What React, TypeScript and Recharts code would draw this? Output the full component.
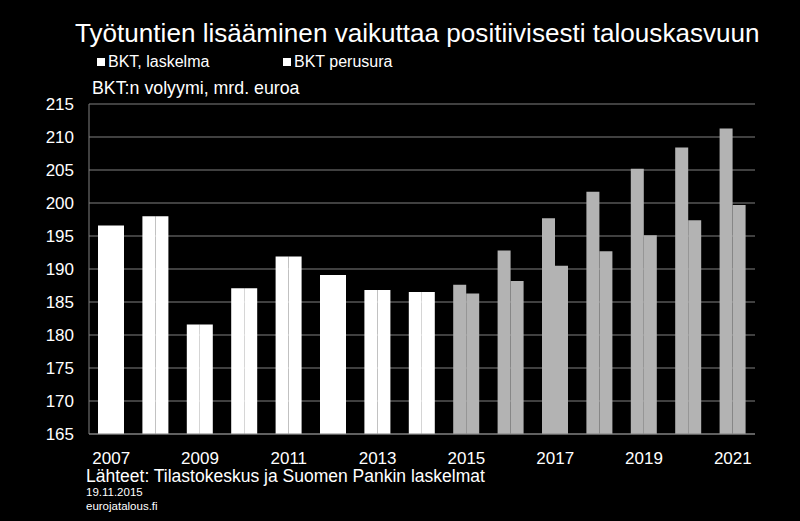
import { BarChart, Bar, Cell, XAxis, YAxis, CartesianGrid, Legend } from "recharts";

const years = ["2007", "2008", "2009", "2010", "2011", "2012", "2013", "2014", "2015", "2016", "2017", "2018", "2019", "2020", "2021"];
const laskelma = [196.6, 198.0, 181.6, 187.1, 191.9, 189.1, 186.8, 186.5, 187.6, 192.8, 197.7, 201.7, 205.2, 208.4, 211.3];
const perusura = [196.6, 198.0, 181.6, 187.1, 191.9, 189.1, 186.8, 186.5, 186.3, 188.2, 190.5, 192.7, 195.1, 197.4, 199.7];
const yTicks = [165, 170, 175, 180, 185, 190, 195, 200, 205, 210, 215];
const seriesNames = ["BKT, laskelma", "BKT perusura"];
const firstForecast = 2015;

const title = "Työtuntien lisääminen vaikuttaa positiivisesti talouskasvuun";
const unitLabel = "BKT:n volyymi, mrd. euroa";
const source = "Lähteet: Tilastokeskus ja Suomen Pankin laskelmat";
const dateLabel = "19.11.2015";
const site = "eurojatalous.fi";

const data = years.map((y, i) => ({ year: y, laskelma: laskelma[i], perusura: perusura[i] }));
const edges = [...years.map((y) => Number(y) - 0.5), Number(years[years.length - 1]) + 0.5];

const FONT = '"Liberation Sans", Arial, sans-serif';
const GRID = "#808080";
const actualColor = "#ffffff";
const forecastColor = "#b3b3b3";

const colorFor = (year: string) => (Number(year) >= firstForecast ? forecastColor : actualColor);

const LegendRow = () => (
  <div style={{ display: "flex", fontFamily: FONT, fontSize: 16, color: "#fff", lineHeight: 1 }}>
    {seriesNames.map((n, i) => (
      <div key={n} style={{ display: "flex", alignItems: "center", width: i === 0 ? 186 : 140 }}>
        <span style={{ display: "inline-block", width: 8, height: 8, background: "#fff", marginRight: 3 }} />
        {n}
      </div>
    ))}
  </div>
);

export default function App() {
  const text = (top: number, left: number, size: number, s: string) => (
    <div
      style={{
        position: "absolute",
        top,
        left,
        fontFamily: FONT,
        fontSize: size,
        lineHeight: 1,
        color: "#fff",
        whiteSpace: "nowrap",
      }}
    >
      {s}
    </div>
  );

  return (
    <div style={{ position: "fixed", top: 0, left: 0, width: 800, height: 521, background: "#000", overflow: "hidden" }}>
      <BarChart
        width={800}
        height={521}
        data={data}
        margin={{ top: 104, right: 45, bottom: 57, left: 39 }}
        barGap={0}
        barSize={13}
      >
        <CartesianGrid vertical={false} stroke={GRID} strokeWidth={1.2} />
        <XAxis
          dataKey="year"
          interval={1}
          height={30}
          tickLine={false}
          axisLine={{ stroke: GRID }}
          tickMargin={12}
          tick={{ fill: "#fff", fontSize: 17, fontFamily: FONT }}
        />
        <XAxis
          xAxisId="edges"
          type="number"
          domain={[edges[0], edges[edges.length - 1]]}
          allowDataOverflow
          ticks={edges}
          mirror
          height={0}
          tick={false}
          tickSize={4}
          tickLine={{ stroke: GRID }}
          axisLine={false}
        />
        <YAxis
          domain={[165, 215]}
          ticks={yTicks}
          width={50}
          tickLine={false}
          tickSize={0}
          tickMargin={15}
          axisLine={{ stroke: GRID }}
          tick={{ fill: "#fff", fontSize: 17, fontFamily: FONT }}
        />
        <YAxis
          yAxisId="right"
          orientation="right"
          domain={[165, 215]}
          width={0}
          tick={false}
          tickLine={false}
          axisLine={{ stroke: GRID }}
        />
        <Legend
          verticalAlign="middle"
          align="center"
          content={() => <LegendRow />}
          wrapperStyle={{ position: "absolute", top: 54, left: 97, width: 400 }}
        />
        <Bar dataKey="laskelma" name={seriesNames[0]} isAnimationActive={false}>
          {data.map((d) => (
            <Cell key={d.year} fill={colorFor(d.year)} />
          ))}
        </Bar>
        <Bar dataKey="perusura" name={seriesNames[1]} isAnimationActive={false}>
          {data.map((d) => (
            <Cell key={d.year} fill={colorFor(d.year)} />
          ))}
        </Bar>
      </BarChart>
      {text(20, 75, 26.1, title)}
      {text(80, 92, 17.8, unitLabel)}
      {text(468, 86, 17.5, source)}
      {text(487, 86, 11.5, dateLabel)}
      {text(501, 86, 11.5, site)}
    </div>
  );
}
